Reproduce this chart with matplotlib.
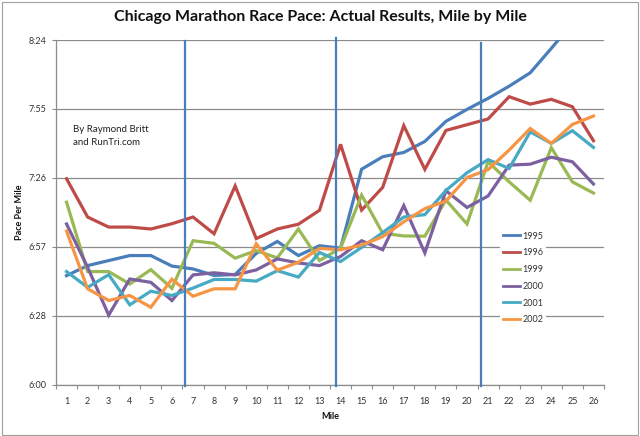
import matplotlib
matplotlib.use("Agg")
import matplotlib.pyplot as plt
from matplotlib.patches import Rectangle
from matplotlib.ticker import FixedLocator

plt.rcParams['font.family'] = ['Lato', 'DejaVu Sans']

miles = list(range(1, 27))

# pace per mile in seconds
pace_1995 = [405.5, 409.7, 411.8, 413.9, 413.9, 409.5, 408.3, 405.6, 406.0, 414.8, 419.8, 413.9, 418.0,
             417.0, 450.0, 455.2, 457.0, 461.6, 470.0, 475.0, 479.6, 484.7, 490.3, 500.5, 511.0, 521.0]
pace_1996 = [446.0, 430.0, 425.8, 425.8, 425.0, 427.2, 430.0, 423.0, 443.0, 421.0, 425.0, 427.0, 432.8,
             460.4, 432.9, 442.4, 468.2, 449.9, 466.2, 468.6, 471.0, 480.3, 477.2, 479.2, 476.1, 461.9]
pace_1999 = [436.2, 407.2, 407.2, 402.0, 408.0, 400.2, 420.1, 419.0, 412.8, 416.0, 412.9, 425.0, 411.8,
             417.0, 439.2, 423.2, 422.1, 422.0, 437.1, 427.1, 453.1, 444.7, 437.0, 459.0, 444.7, 440.0]
pace_2000 = [427.1, 409.0, 389.0, 404.1, 402.7, 395.1, 405.8, 406.7, 405.8, 407.9, 412.5, 410.8, 409.7,
             413.5, 420.1, 416.3, 434.8, 415.0, 441.0, 434.0, 438.8, 451.7, 452.1, 455.0, 453.1, 443.8]
pace_2001 = [407.2, 400.6, 405.9, 393.3, 399.0, 397.2, 400.3, 403.9, 403.9, 403.2, 407.6, 404.9, 415.2,
             411.4, 417.3, 423.5, 430.0, 431.0, 441.1, 448.5, 454.0, 450.3, 465.6, 460.8, 466.1, 459.1]
pace_2002 = [424.1, 400.0, 395.1, 397.2, 392.3, 404.0, 396.9, 400.0, 400.0, 418.8, 407.8, 411.1, 416.9,
             416.3, 418.3, 421.8, 428.0, 433.5, 436.7, 446.5, 449.8, 458.0, 467.0, 460.8, 468.7, 472.2]

series_names = ['1995', '1996', '1999', '2000', '2001', '2002']
series_values = [pace_1995, pace_1996, pace_1999, pace_2000, pace_2001, pace_2002]
series_colors = ['#4A7EBB', '#BE4B48', '#98B954', '#7D60A0', '#46AAC5', '#F69544']

y_ticks = [360, 388.8, 417.6, 446.4, 475.2, 504]
y_tick_labels = ['6:00', '6:28', '6:57', '7:26', '7:55', '8:24']

# vertical marker lines: (mile position, top in seconds)
marker_x = [6.62, 13.78, 20.65]
marker_top = [503.7, 504.8, 502.9]

fig = plt.figure(figsize=(6.4, 4.36), dpi=100)
ax = fig.add_axes([56/640, 1-384.5/436, 548/640, 344.5/436])

for name, vals, col in zip(series_names, series_values, series_colors):
    ax.plot(miles, vals, color=col, lw=2.3, label=name, solid_joinstyle='miter', zorder=3)

for mx, mt in zip(marker_x, marker_top):
    ax.plot([mx, mx], [359.2, mt], color='#4A7EBB', lw=1.6, clip_on=False, zorder=4)

ax.set_xlim(0.5, 26.5)
ax.set_ylim(360, 504)
ax.set_yticks(y_ticks)
ax.set_yticklabels(y_tick_labels)
ax.set_xticks(miles)
ax.set_xticklabels([str(m) for m in miles])
ax.xaxis.set_minor_locator(FixedLocator([m + 0.5 for m in range(0, 27)]))

ax.grid(axis='y', color='#8C8C8C', lw=0.9, zorder=1)
for s in ['top', 'right']:
    ax.spines[s].set_visible(False)
for s in ['left', 'bottom']:
    ax.spines[s].set_color('#8C8C8C')
    ax.spines[s].set_linewidth(0.9)

ax.tick_params(axis='y', which='major', length=3, width=0.8, color='#8C8C8C', pad=4,
               labelsize=6.5, labelcolor='#333333')
ax.tick_params(axis='x', which='major', length=0, pad=9, labelsize=6.5, labelcolor='#333333')
ax.tick_params(axis='x', which='minor', length=3, width=0.8, color='#8C8C8C', direction='out')

fig.text(320/640, 1-17/436, 'Chicago Marathon Race Pace: Actual Results, Mile by Mile',
         ha='center', va='center', fontsize=11.5, fontweight='bold', color='#111111')
fig.text(20/640, 1-212/436, 'Pace Per Mile', rotation=90, ha='center', va='center',
         fontsize=6.5, fontweight='bold', color='#111111')
fig.text(330/640, 1-416/436, 'Mile', ha='center', va='center',
         fontsize=6.5, fontweight='bold', color='#111111')
fig.text(73/640, 1-136/436, 'By Raymond Britt\nand RunTri.com', ha='left', va='center',
         fontsize=7, color='#222222', linespacing=1.5)

leg = ax.legend(loc='center left', bbox_to_anchor=((500-56)/548, (384.5-278)/344.5),
                frameon=True, fontsize=6.5, handlelength=1.9, handletextpad=0.3,
                labelspacing=0.86, borderpad=0.3, borderaxespad=0)
leg.get_frame().set_facecolor('white')
leg.get_frame().set_edgecolor('none')
leg.get_frame().set_alpha(1)
for t in leg.get_texts():
    t.set_color('#333333')
for h in leg.get_lines():
    h.set_linewidth(2.0)

fig.patches.append(Rectangle((1.5/640, 1.5/436), 636/640, 432/436, transform=fig.transFigure,
                             fill=False, ec='#A0A0A0', lw=0.8))

fig.savefig('out.png', dpi=100)
